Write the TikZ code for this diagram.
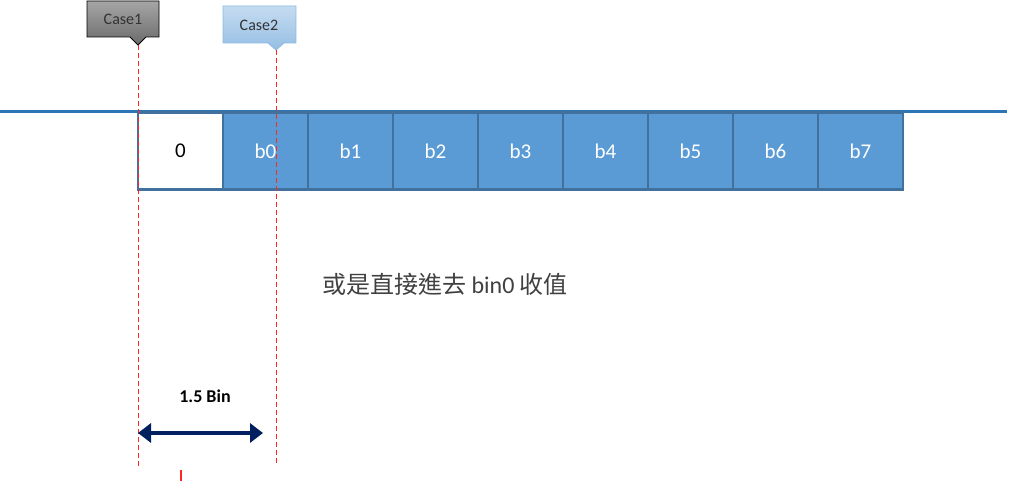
\documentclass[tikz,border=0pt]{standalone}
\usepackage{fontspec}
\setmainfont{Carlito}
\newfontfamily\cjk{Noto Sans CJK TC}
\usetikzlibrary{arrows.meta}
\definecolor{binfill}{HTML}{5B9BD5}
\definecolor{binedge}{HTML}{41719C}
\definecolor{axis}{HTML}{2E75B6}
\definecolor{navy}{HTML}{002060}
\definecolor{txtgray}{HTML}{404040}
\tikzset{
  bin/.style={draw=binedge, line width=2.5pt, fill=binfill, minimum width=85pt, minimum height=77pt, inner sep=0pt, text=white, font=\fontsize{21}{24}\selectfont},
  zerobin/.style={bin, fill=white, text=black},
  guide/.style={red!85!white, dashed, dash pattern=on 5pt off 3pt, line width=1pt},
  calltext/.style={font=\fontsize{16}{18}\selectfont, text=black!80},
}
\begin{document}
\begin{tikzpicture}[x=1pt,y=-1pt]
\useasboundingbox (0,0) rectangle (1024,481);
% axis line
\coordinate (axL) at (0,112);
\coordinate (axR) at (1007,112);
\draw[axis, line width=3pt] (axL) -- (axR);
% bins
\node[zerobin] (z) at (180.5,151) {0};
\foreach \i/\lab in {0/b0,1/b1,2/b2,3/b3,4/b4,5/b5,6/b6,7/b7}{
  \node[bin] (b\i) at ({265.5+85*\i},151) {\lab};
}
% callouts
\path[draw=black, line width=0.8pt, top color=black!35, bottom color=black!58]
  (87,1) -- (159,1) -- (159,37) -- (146,37) -- (138,45) -- (130,37) -- (87,37) -- cycle;
\node[calltext] (c1) at (123,19) {Case1};
\coordinate (c1tip) at (138,45);
\path[draw=binfill!70, line width=0.8pt, top color=binfill!35, bottom color=binfill!65]
  (223,6) -- (296,6) -- (296,43) -- (284,43) -- (276,50) -- (268,43) -- (223,43) -- cycle;
\node[calltext] (c2) at (259,25) {Case2};
\coordinate (c2tip) at (276,50);
% guides
\coordinate (g1b) at (138,468);
\coordinate (g2b) at (276,463);
\draw[guide] (c1tip) -- (g1b);
\draw[guide] (c2tip) -- (g2b);
\coordinate (t1) at (181,470);
\coordinate (t2) at (181,481);
\draw[red!85!white, line width=1.3pt] (t1) -- (t2);
% arrow
\coordinate (aL) at (138,433);
\coordinate (aR) at (263,433);
\draw[navy, line width=4.2pt, {Triangle[length=13pt,width=19pt]}-{Triangle[length=13pt,width=19pt]}] (aL) -- (aR);
\node[font=\bfseries\fontsize{18}{21}\selectfont] (lab) at (205,396) {1.5 Bin};
% note
\node[anchor=west, text=txtgray, font=\fontsize{24}{28}\selectfont, inner sep=0pt] (note) at (322,284) {{\cjk 或是直接進去} bin0 {\cjk 收值}};
\end{tikzpicture}
\end{document}
